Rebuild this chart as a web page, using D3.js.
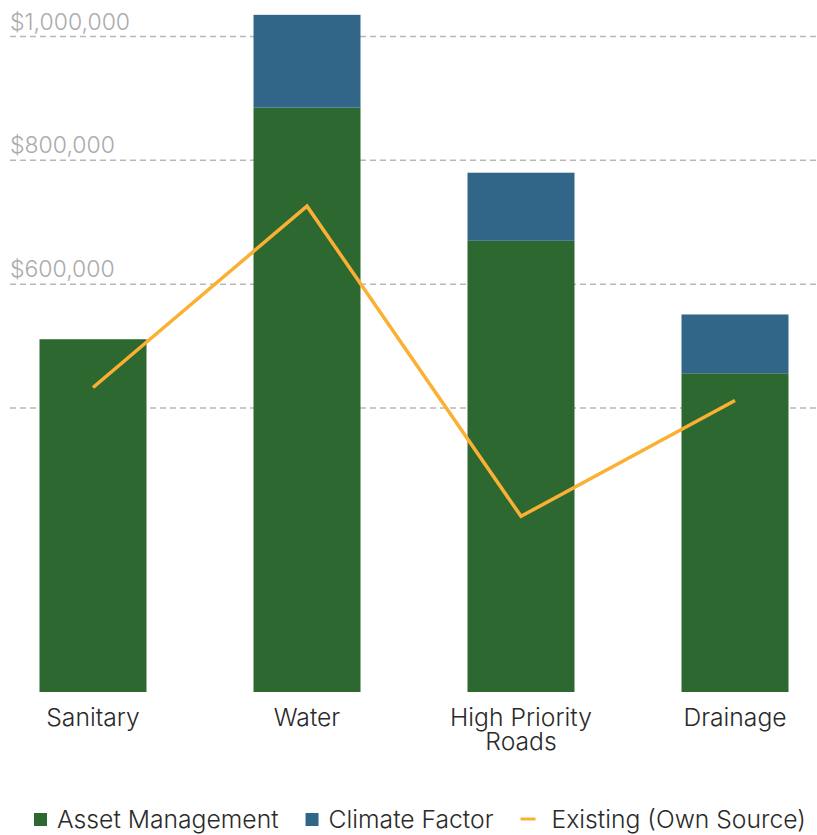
<!DOCTYPE html>
<html>
<head>
<meta charset="UTF-8">
<title>Asset management vs existing funding</title>
<script src="https://d3js.org/d3.v7.min.js"></script>
<style>
body { margin: 0; background: #fff; }
text { font-family: Inter, Roboto, "Noto Sans", sans-serif; }
</style>
</head>
<body>
<figure class=chart style="margin:0"></figure>

<script type="text/javascript">

/* Data */
var categories = ['Sanitary', 'Water', 'High Priority|Roads', 'Drainage'];
var assetManagement = [511000, 885000, 670000, 456000];
var climateFactor = [0, 150000, 110000, 95000];
var existing = [433000, 726000, 225000, 412000];
var gridTicks = [400000, 600000, 800000, 1000000];
var labelTicks = [600000, 800000, 1000000];
var seriesNames = ['Asset Management', 'Climate Factor', 'Existing (Own Source)'];

/* Global variables */
var W = 817, H = 835
var green = '#2e6831', blue = '#316688', orange = '#fbb034'

var x = d3.scaleBand()
	.domain(categories)
	.range([-14, 842])
	.paddingInner(0.5)
	.paddingOuter(0.25)

var y = d3.scaleLinear()
	.domain([-58800, 1000000])	// axis does not start at zero
	.range([692, 36.5])

var fmt = d3.format('$,')

var svg = d3.select('figure')
	.append('svg')
	.attr('width', W)
	.attr('height', H)

/* Grid */
function draw_grid() {
	svg.selectAll('line.grid')
		.data(gridTicks)
		.enter()
		.append('line')
		.attr('class', 'grid')
		.attr('x1', 10)
		.attr('x2', W)
		.attr('y1', function(d) { return y(d); })
		.attr('y2', function(d) { return y(d); })
		.style('stroke', '#b8b8b8')
		.style('stroke-width', 1.5)
		.style('stroke-dasharray', '6,4')

	svg.selectAll('text.ylab')
		.data(labelTicks)
		.enter()
		.append('text')
		.attr('class', 'ylab')
		.attr('x', 10)
		.attr('y', function(d) { return y(d) - 7; })
		.text(function(d) { return fmt(d); })
		.style('font-size', '23px')
		.style('font-weight', 300)
		.style('fill', '#ababab')
}

/* Bars */
function draw_bars() {
	var base = y.domain()[0]
	svg.selectAll('rect.asset')
		.data(assetManagement)
		.enter()
		.append('rect')
		.attr('class', 'asset')
		.attr('x', function(d, i) { return x(categories[i]); })
		.attr('width', x.bandwidth())
		.attr('y', function(d) { return y(d); })
		.attr('height', function(d) { return y(base) - y(d); })
		.style('fill', green)

	svg.selectAll('rect.climate')
		.data(climateFactor)
		.enter()
		.append('rect')
		.attr('class', 'climate')
		.attr('x', function(d, i) { return x(categories[i]); })
		.attr('width', x.bandwidth())
		.attr('y', function(d, i) { return y(assetManagement[i] + d); })
		.attr('height', function(d, i) { return y(assetManagement[i]) - y(assetManagement[i] + d); })
		.style('fill', blue)
}

/* Line */
function draw_line() {
	var line = d3.line()
		.x(function(d, i) { return x(categories[i]) + x.bandwidth() / 2; })
		.y(function(d) { return y(d); })

	svg.append('path')
		.datum(existing)
		.attr('d', line)
		.style('fill', 'none')
		.style('stroke', orange)
		.style('stroke-width', 3.5)
}

/* Category labels */
function draw_xlabels() {
	var g = svg.selectAll('text.xlab')
		.data(categories)
		.enter()
		.append('text')
		.attr('class', 'xlab')
		.attr('text-anchor', 'middle')
		.attr('x', function(d) { return x(d) + x.bandwidth() / 2; })
		.attr('y', 726)
		.style('font-size', '24.7px')
		.style('font-weight', 300)
		.style('fill', '#2a2a2a')

	g.selectAll('tspan')
		.data(function(d) { return d.split('|').map(function(s) { return {s: s, cx: x(d) + x.bandwidth() / 2}; }); })
		.enter()
		.append('tspan')
		.attr('x', function(d) { return d.cx; })
		.attr('dy', function(d, i) { return i == 0 ? 0 : 24; })
		.text(function(d) { return d.s; })
}

/* Legend */
function draw_legend() {
	var cx = 34, cy = 819
	var colors = [green, blue, orange]
	seriesNames.forEach(function(name, i) {
		if (i < 2) {
			svg.append('rect')
				.attr('x', cx).attr('y', cy - 6)
				.attr('width', 13).attr('height', 13)
				.style('fill', colors[i])
		} else {
			svg.append('line')
				.attr('x1', cx).attr('x2', cx + 15)
				.attr('y1', cy).attr('y2', cy)
				.style('stroke', colors[i])
				.style('stroke-width', 3)
		}
		var off = (i < 2 ? 23 : 31)
		var t = svg.append('text')
			.attr('x', cx + off)
			.attr('y', cy + 9)
			.text(name)
			.style('font-size', '24.7px')
			.style('font-weight', 300)
			.style('fill', '#2a2a2a')
		cx = cx + off + t.node().getComputedTextLength() + 27
	})
}

/* Main code */
draw_grid()
draw_bars()
draw_line()
draw_xlabels()
draw_legend()

</script>
</body>
</html>
